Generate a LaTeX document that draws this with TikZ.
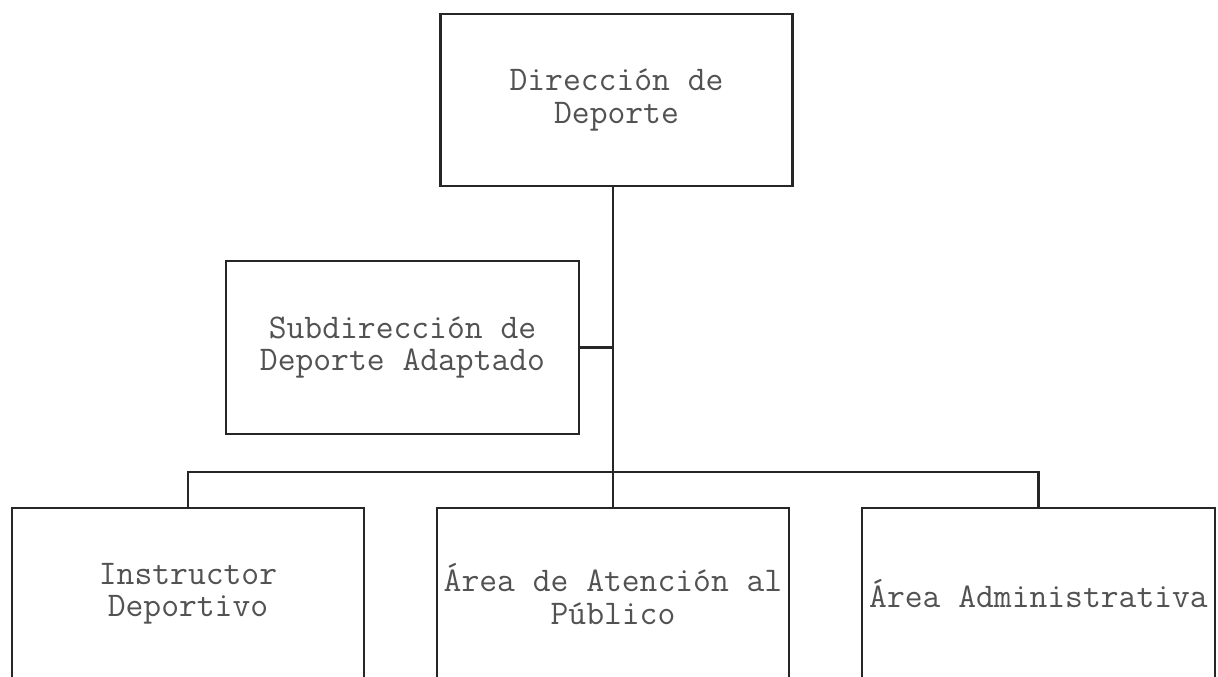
\documentclass[tikz,border=0pt]{standalone}
\usepackage{fontspec}
\begin{document}
\begin{tikzpicture}[x=1pt,y=-1pt,
  orgbox/.style={draw=black!85, line width=2.2pt, rectangle, inner sep=0pt,
    minimum width=352pt, minimum height=172pt, align=center, text=black!68,
    font=\ttfamily\fontsize{34.6}{32.5}\selectfont},
  link/.style={draw=black!85, line width=2.2pt}]
\useasboundingbox (0,0) rectangle (1218,677);
\fill[white] (0,0) rectangle (1218,677);
\clip (0,0) rectangle (1218,677);
\node[orgbox] (dir) at (616.5,100) {Dirección de\\Deporte};
\node[orgbox, minimum width=353pt, minimum height=173pt] (sub) at (402.5,347.5) {Subdirección de\\Deporte Adaptado};
\node[orgbox] (ins) at (188,594) {Instructor\\Deportivo};
\node[orgbox] (ate) at (613,594) {Área de Atención al\\Público};
\node[orgbox, minimum width=353pt] (adm) at (1038.5,594) {Área Administrativa};
\coordinate (bus) at (613,472);
\draw[link] (dir.south -| ate.north) -- (ate.north);
\draw[link] (sub.east) -- (sub.east -| ate.north);
\draw[link] (ins.north) -- (ins.north |- bus) -- (adm.north |- bus) -- (adm.north);
\end{tikzpicture}
\end{document}
